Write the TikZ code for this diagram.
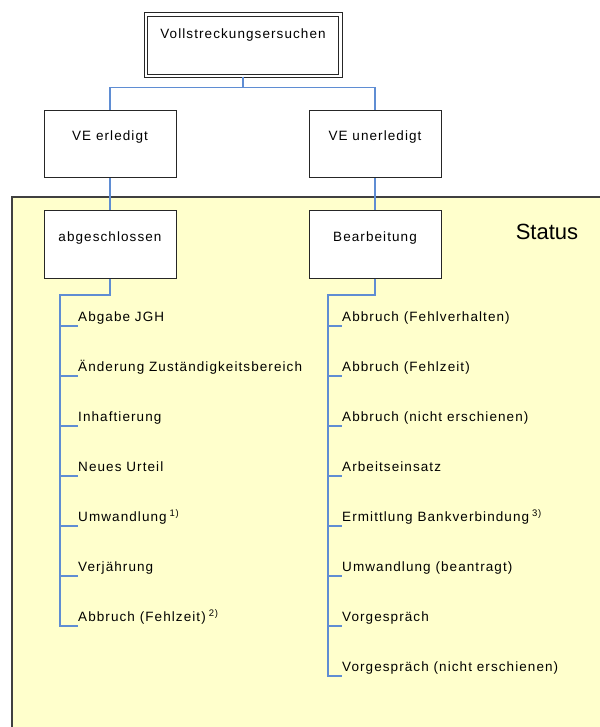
\documentclass[tikz,border=0pt]{standalone}
\usepackage{fontspec}
\setmainfont{Liberation Sans}[LetterSpace=8]
\newfontfamily\statusfont{Liberation Sans}
\usetikzlibrary{
  calc,
  positioning
}
\definecolor{linkblue}{RGB}{95,141,211}
\definecolor{statusyellow}{RGB}{255,255,204}
\definecolor{framegray}{RGB}{64,64,64}
\newcommand{\fnmark}[1]{\hspace{3pt}\raisebox{5.5pt}{\fontsize{9.5}{9.5}\selectfont #1}}

\begin{document}
\begin{tikzpicture}[x=1pt, y=-1pt,
    box/.style = {rectangle, draw=black!85, fill=white, line width=1pt, minimum width=132pt, inner sep=0pt, text height=30pt, text depth=37pt},
    item/.style = {anchor=south west, inner sep=0pt, text height=10pt, text depth=4pt},
    link/.style = {draw=linkblue, line width=1.2pt},
    region/.style = {fill=statusyellow, draw=framegray, line width=2pt},
    font=\fontsize{13.5}{16}\selectfont]
  \useasboundingbox (0,0) rectangle (599,727);
  % status area
  \draw[region] (12,197) rectangle (640,760);
  \node[font=\statusfont\fontsize{22}{26}\selectfont] (status_label) at (547,232) {Status};

  % nodes
  \node[box, double, double distance=2.5pt, minimum width=194.5pt, text height=24.25pt, text depth=37.25pt, anchor=north] (request) at (243,14.25) {Vollstreckungsersuchen};
  \node[box, anchor=north] (ve_done) at (110,110.5) {VE erledigt};
  \node[box, anchor=north] (ve_open) at (375,110.5) {VE unerledigt};
  \node[box, below=32pt of ve_done] (done_box) {abgeschlossen};
  \node[box, below=32pt of ve_open] (open_box) {Bearbeitung};

  \foreach \txt [count=\i] in {Abgabe JGH, Änderung Zuständigkeitsbereich, Inhaftierung, Neues Urteil, {Umwandlung\fnmark{1)}}, Verjährung, {Abbruch (Fehlzeit)\fnmark{2)}}}
    \node[item] (done_\i) at (78,276+50*\i) {\txt};
  \foreach \txt [count=\i] in {Abbruch (Fehlverhalten), Abbruch (Fehlzeit), Abbruch (nicht erschienen), Arbeitseinsatz, {Ermittlung Bankverbindung\fnmark{3)}}, Umwandlung (beantragt), Vorgespräch, Vorgespräch (nicht erschienen)}
    \node[item] (open_\i) at (342,276+50*\i) {\txt};

  \coordinate (done_bar) at (60,295);
  \coordinate (open_bar) at (328,295);

  % connections
  \draw[link] (request.south) -- ++(0,11) -| (ve_done.north);
  \draw[link] (request.south) ++(0,11) -| (ve_open.north);
  \draw[link] (ve_done.south) -- (done_box.north);
  \draw[link] (ve_open.south) -- (open_box.north);
  \draw[link] (done_box.south) |- (done_bar) |- (done_7.south west);
  \draw[link] (open_box.south) |- (open_bar) |- (open_8.south west);
  \foreach \i in {1,...,6}
    \draw[link] (done_bar |- done_\i.south west) -- (done_\i.south west);
  \foreach \i in {1,...,7}
    \draw[link] (open_bar |- open_\i.south west) -- (open_\i.south west);
\end{tikzpicture}
\end{document}
